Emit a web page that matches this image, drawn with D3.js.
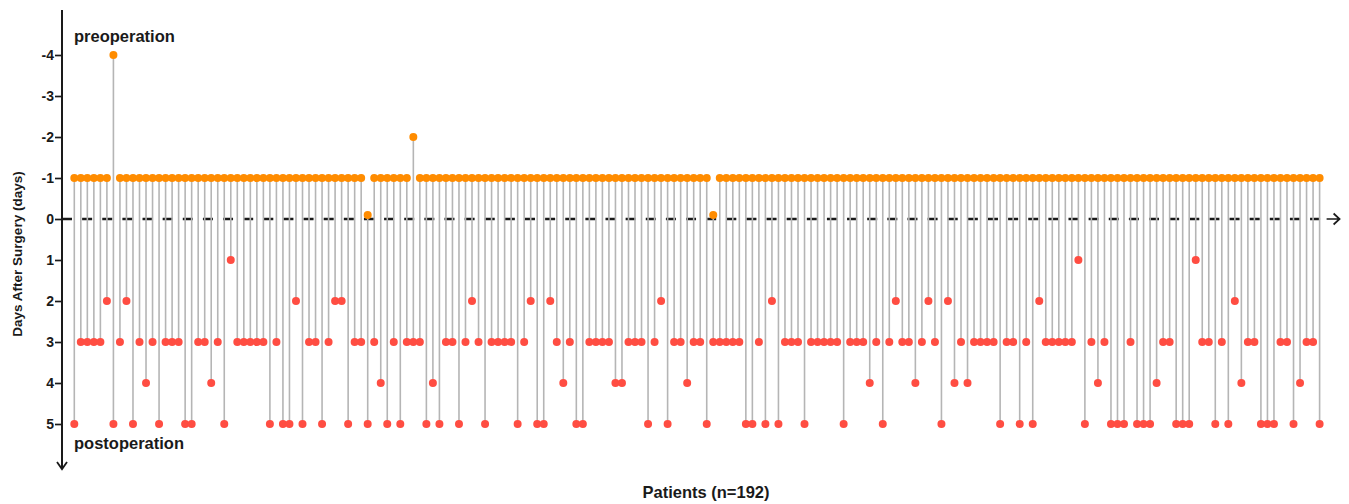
<!DOCTYPE html>
<html>
<head>
<meta charset="utf-8">
<script src="https://cdn.jsdelivr.net/npm/d3@7/dist/d3.min.js"></script>
<style>
  html, body { margin: 0; padding: 0; background: #fff; }
  svg { display: block; font-family: "Liberation Sans", Arial, sans-serif; }
</style>
</head>
<body>
<svg id="chart" width="1349" height="504"></svg>
<script>
// ---- data ----
const preop = [
  -1,-1,-1,-1,-1,-1,-4,-1,-1,-1,-1,-1,-1,-1,
  -1,-1,-1,-1,-1,-1,-1,-1,-1,-1,-1,-1,-1,-1,-1,-1,-1,
  -1,-1,-1,-1,-1,-1,-1,-1,-1,-1,-1,-1,-1,-1,-0.1,-1,
  -1,-1,-1,-1,-1,-2,-1,-1,-1,-1,-1,-1,-1,-1,-1,-1,
  -1,-1,-1,-1,-1,-1,-1,-1,-1,-1,-1,-1,-1,-1,-1,-1,
  -1,-1,-1,-1,-1,-1,-1,-1,-1,-1,-1,-1,-1,-1,-1,-1,
  -1,-1,-1,-0.1,-1,-1,-1,-1,-1,-1,-1,-1,-1,-1,-1,-1,
  -1,-1,-1,-1,-1,-1,-1,-1,-1,-1,-1,-1,-1,-1,-1,-1,
  -1,-1,-1,-1,-1,-1,-1,-1,-1,-1,-1,-1,-1,-1,-1,-1,
  -1,-1,-1,-1,-1,-1,-1,-1,-1,-1,-1,-1,-1,-1,-1,-1,-1,
  -1,-1,-1,-1,-1,-1,-1,-1,-1,-1,-1,-1,-1,-1,-1,-1,
  -1,-1,-1,-1,-1,-1,-1,-1,-1,-1,-1,-1,-1,-1,-1,-1
];
const postop = [
  5,3,3,3,3,2,5,3,2,5,3,4,3,5,
  3,3,3,5,5,3,3,4,3,5,1,3,3,3,3,3,5,
  3,5,5,2,5,3,3,5,3,2,2,5,3,3,5,3,
  4,5,3,5,3,3,3,5,4,5,3,3,5,3,2,3,
  5,3,3,3,3,5,3,2,5,5,2,3,4,3,5,5,
  3,3,3,3,4,4,3,3,3,5,3,2,5,3,3,4,
  3,3,5,3,3,3,3,3,5,5,3,5,2,5,3,3,
  3,5,3,3,3,3,3,5,3,3,3,4,3,5,3,2,
  3,3,4,3,2,3,5,2,4,3,4,3,3,3,3,5,
  3,3,5,3,5,2,3,3,3,3,3,1,5,3,4,3,5,
  5,5,3,5,5,5,4,3,3,5,5,5,1,3,3,5,
  3,5,2,4,3,3,5,5,5,3,3,5,4,3,3,5
];
const yTicks = [-4,-3,-2,-1,0,1,2,3,4,5];
const yTickLabels = ["-4","-3","-2","-1","0","1","2","3","4","5"];
const texts = {
  yTitle: "Days After Surgery (days)",
  xTitle: "Patients (n=192)",
  top: "preoperation",
  bottom: "postoperation"
};

const patients = preop.map((p, i) => ({ id: i + 1, pre: p, post: postop[i] }));

// ---- scales ----
const svg = d3.select("#chart");
const axisX = 62;
const x = d3.scaleLinear().domain([1, patients.length]).range([74.3, 1319.6]);
const y = d3.scaleLinear().domain([-4, 5]).range([55, 424]);

const ORANGE = "#ff8c00";
const RED = "#ff4d42";
const GRAY = "#b5b5b5";

// zero dashed line
const y0 = y(0);
svg.append("line")
  .attr("x1", axisX).attr("x2", x(patients.length) + 2)
  .attr("y1", y0).attr("y2", y0)
  .attr("stroke", "#1a1a1a").attr("stroke-width", 2.5)
  .attr("stroke-dasharray", "10,10.13");

// connecting lines
svg.append("g").selectAll("line").data(patients).join("line")
  .attr("x1", d => x(d.id)).attr("x2", d => x(d.id))
  .attr("y1", d => y(d.pre)).attr("y2", d => y(d.post))
  .attr("stroke", GRAY).attr("stroke-width", 1.6);

// arrow on zero line
const ax = x(patients.length) + 7;
svg.append("path")
  .attr("d", `M${ax},${y0}H${ax + 13}M${ax + 7},${y0 - 5.5}L${ax + 13},${y0}L${ax + 7},${y0 + 5.5}`)
  .attr("fill", "none").attr("stroke", "#1a1a1a").attr("stroke-width", 1.7);

// y axis
const yAxis = d3.axisLeft(y).tickValues(yTicks).tickSize(7)
  .tickFormat((d, i) => yTickLabels[i]);
const gy = svg.append("g").attr("transform", `translate(${axisX},0)`).call(yAxis);
gy.select(".domain").remove();
gy.selectAll(".tick line").attr("stroke", "#1a1a1a").attr("stroke-width", 1.7);
gy.selectAll(".tick text")
  .attr("x", -8)
  .attr("fill", "#1a1a1a")
  .style("font-size", "14px").style("font-weight", "bold")
  .style("font-family", "'Liberation Sans', Arial, sans-serif");

const yTop = y(-5.1), yBot = y(6.1);
svg.append("line")
  .attr("x1", axisX).attr("x2", axisX).attr("y1", yTop).attr("y2", yBot)
  .attr("stroke", "#1a1a1a").attr("stroke-width", 2);
svg.append("path")
  .attr("d", `M${axisX - 5},${yBot - 7}L${axisX},${yBot}L${axisX + 5},${yBot - 7}`)
  .attr("fill", "none").attr("stroke", "#1a1a1a").attr("stroke-width", 1.8);

// dots
svg.append("g").selectAll("circle").data(patients).join("circle")
  .attr("cx", d => x(d.id)).attr("cy", d => y(d.post)).attr("r", 4)
  .attr("fill", RED);
svg.append("g").selectAll("circle").data(patients).join("circle")
  .attr("cx", d => x(d.id)).attr("cy", d => y(d.pre)).attr("r", 4)
  .attr("fill", ORANGE);

// texts
const bold = sel => sel.attr("fill", "#1a1a1a").style("font-weight", "bold");
bold(svg.append("text").attr("x", 74).attr("y", 42).style("font-size", "16.5px").text(texts.top));
bold(svg.append("text").attr("x", 74).attr("y", 449).style("font-size", "16.5px").text(texts.bottom));
bold(svg.append("text").attr("x", 706).attr("y", 498).attr("text-anchor", "middle")
  .style("font-size", "16.5px").text(texts.xTitle));
bold(svg.append("text")
  .attr("transform", `translate(22,254) rotate(-90)`)
  .attr("text-anchor", "middle").style("font-size", "13.5px").text(texts.yTitle));
</script>
</body>
</html>
